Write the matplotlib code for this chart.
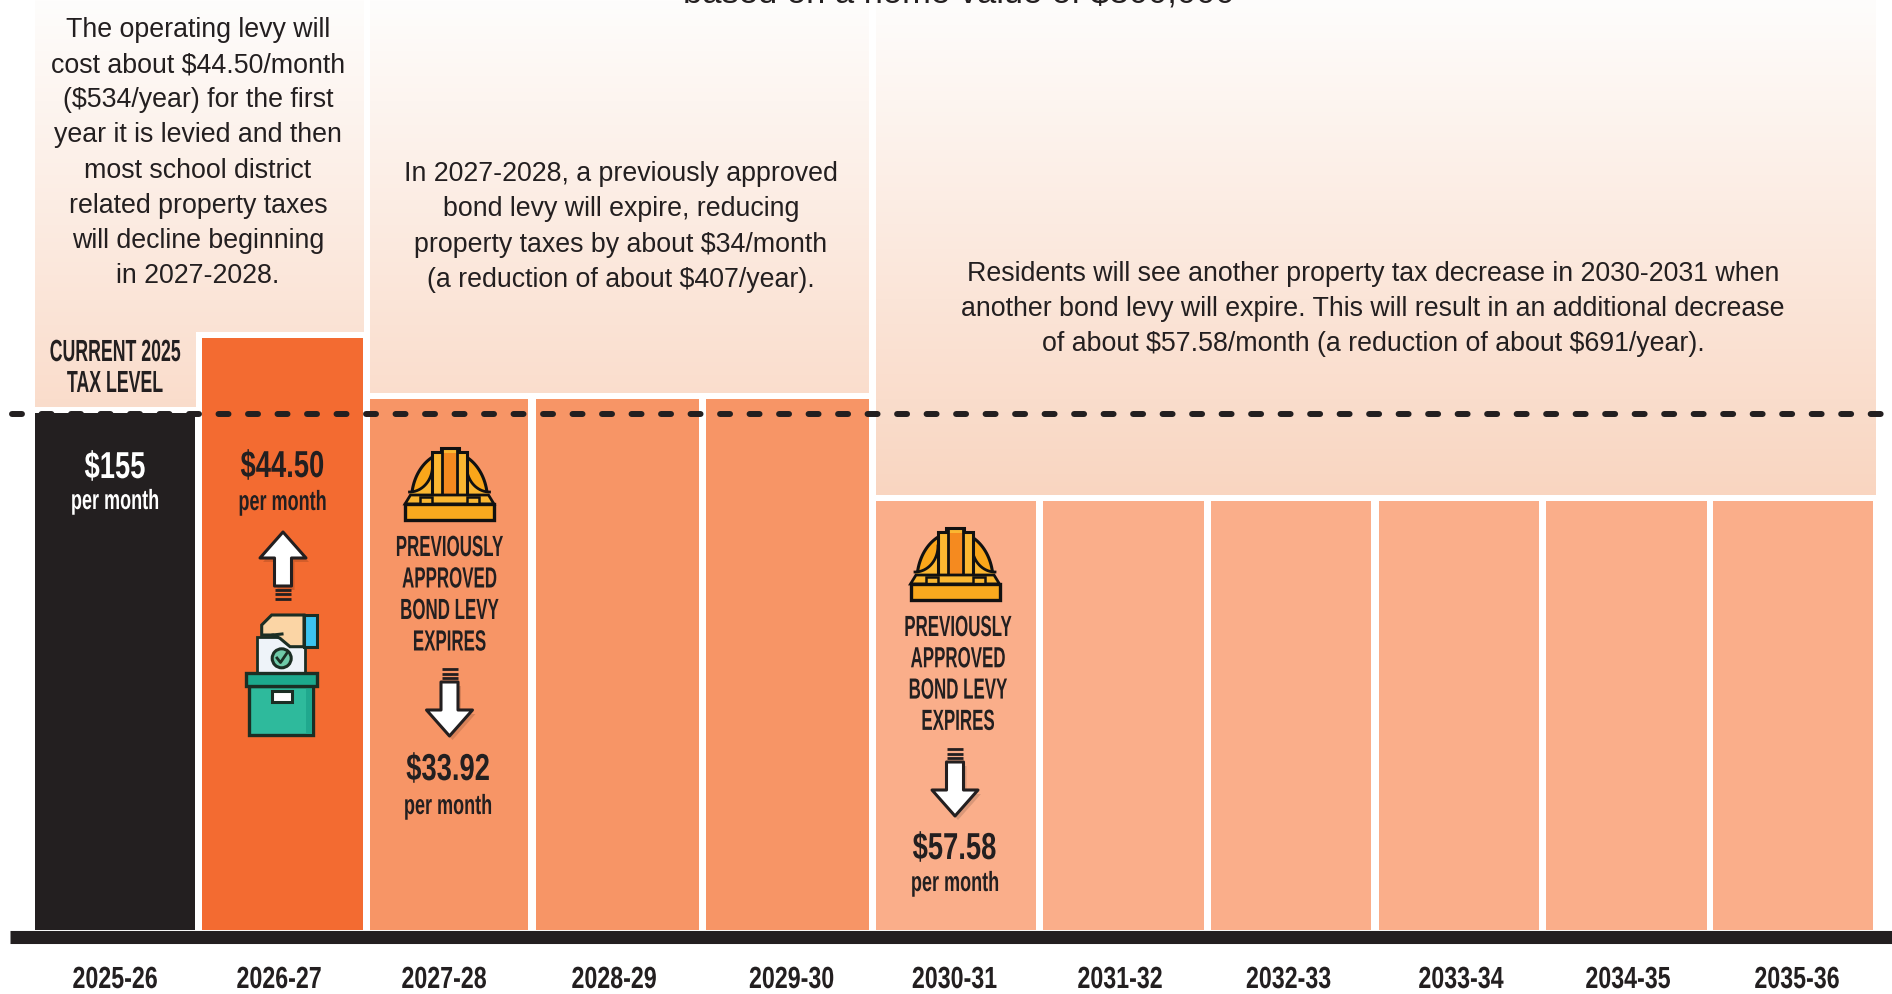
import numpy as np
from matplotlib import pyplot as plt
from matplotlib.patches import Rectangle, Polygon, Circle
from matplotlib.patheffects import AbstractPathEffect
from matplotlib.transforms import Affine2D

W, H = 1892, 994
BASE_Y = 930
PX_PER_UNIT = 517 / 155

# chart values
years = ["2025-26", "2026-27", "2027-28", "2028-29", "2029-30", "2030-31",
         "2031-32", "2032-33", "2033-34", "2034-35", "2035-36"]
bar_heights = [155, 177.5, 159.2, 159.2, 159.2, 128.6, 128.6, 128.6, 128.6, 128.6, 128.6]
bar_colors = ["#231F20", "#F36B31", "#F79566", "#F79566", "#F79566", "#FAAE8A",
              "#FAAE8A", "#FAAE8A", "#FAAE8A", "#FAAE8A", "#FAAE8A"]
current_level = 154.7

# layout in pixels
bar_left = [34.5, 202, 370, 535.5, 705.5, 876, 1043, 1211, 1379, 1546, 1713]
bar_right = [195, 363, 527.5, 698.5, 868.5, 1036, 1203.5, 1371, 1539, 1706.5, 1873]
year_x = [115, 279, 444, 614, 791.5, 954.5, 1120, 1288.5, 1461, 1628, 1797]

TEXT = "#231F20"
BODY = "Liberation Sans"
HEAD = ["Liberation Sans Narrow", "Liberation Sans"]


class Squeeze(AbstractPathEffect):
    # narrows the glyphs around the anchor, no condensed display font is installed
    def __init__(self, factor, cx):
        super().__init__()
        self.factor = factor
        self.cx = cx

    def draw_path(self, renderer, gc, tpath, affine, rgbFace=None):
        t = affine + Affine2D().translate(-self.cx, 0).scale(self.factor, 1).translate(self.cx, 0)
        renderer.draw_path(gc, tpath, t, rgbFace)


fig = plt.figure(figsize=(W / 100, H / 100), dpi=100)
ax = fig.add_axes([0, (H - BASE_Y) / H, 1, BASE_Y / H])
ax.set_xlim(0, W)
ax.set_ylim(0, BASE_Y / PX_PER_UNIT)

ov = fig.add_axes([0, 0, 1, 1], facecolor="none")
ov.set_xlim(0, W)
ov.set_ylim(H, 0)
ov.axis("off")

# gradient panels above the bars
t = np.linspace(0, 1, 256)[:, None]
top_c = np.array([254, 253, 252]) / 255
bot_c = np.array([249, 213, 192]) / 255
grad = (top_c + (bot_c - top_c) * t)[:, None, :].reshape(256, 1, 3)
gap = 6 / PX_PER_UNIT
panels = [(34.5, 195, bar_heights[0]), (195, 363, bar_heights[1]),
          (370, 868.5, bar_heights[2]), (876, 1875, bar_heights[5])]
ymax = BASE_Y / PX_PER_UNIT
for x0, x1, level in panels:
    im = ax.imshow(grad, extent=(0, W, (BASE_Y - 500) / PX_PER_UNIT, ymax), aspect="auto", zorder=1)
    clip = Rectangle((x0, level + gap), x1 - x0, ymax - level - gap, transform=ax.transData)
    im.set_clip_path(clip)
ax.set_xlim(0, W)
ax.set_ylim(0, ymax)

widths = [r - l for l, r in zip(bar_left, bar_right)]
ax.bar(bar_left, bar_heights, width=widths, align="edge", color=bar_colors, zorder=2)

ax.axhline(current_level, xmin=12 / W, color=TEXT, lw=4.3, zorder=6,
           dash_capstyle="round", dashes=(1.67, 3.27))

for s in ["top", "left", "right"]:
    ax.spines[s].set_visible(False)
ax.spines["bottom"].set_bounds(10, W)
ax.spines["bottom"].set_linewidth(9.4)
ax.spines["bottom"].set_color(TEXT)
ax.spines["bottom"].set_position(("outward", 4.7))
ax.spines["bottom"].set_capstyle("butt")
ax.set_yticks([])
ax.set_xticks(year_x)
ax.set_xticklabels(years)
ax.tick_params(axis="x", length=0, pad=20.5)
for lab, x in zip(ax.get_xticklabels(), year_x):
    lab.set_family(HEAD)
    lab.set_fontweight("bold")
    lab.set_fontsize(22)
    lab.set_color(TEXT)
    lab.set_path_effects([Squeeze(0.76, x)])


def body(x, y, s, size=19.3, spacing=1.455):
    ov.text(x, y, s.replace("$", r"\$"), ha="center", va="center", family=BODY, fontsize=size,
            color=TEXT, linespacing=spacing)


def head(x, y, s, size=22, squeeze=0.58, color=TEXT):
    ov.text(x, y, s.replace("$", r"\$"), ha="center", va="center", family=HEAD, fontsize=size,
            color=color, fontweight="bold", path_effects=[Squeeze(squeeze, x)])


def money(x, y, s, color=TEXT):
    head(x, y, s, size=27, squeeze=0.73, color=color)


def per_month(x, y, color=TEXT):
    head(x, y, "per month", size=20, squeeze=0.65, color=color)


def arrow(x, tip, direction):
    # direction -1 points up, +1 points down
    d = direction
    pts = [(x, tip), (x - 23, tip - d * 26), (x - 8.5, tip - d * 26), (x - 8.5, tip - d * 54),
           (x + 8.5, tip - d * 54), (x + 8.5, tip - d * 26), (x + 23, tip - d * 26)]
    shadow = [(a + 3, b + 4) for a, b in pts]
    ov.add_patch(Polygon(shadow, closed=True, fc="#000000", ec="none", alpha=0.13, zorder=3))
    ov.add_patch(Polygon(pts, closed=True, fc="white", ec=TEXT, lw=2.2, joinstyle="round", zorder=4))
    for k in range(3):
        yy = tip - d * (58 + k * 4.3)
        ov.plot([x - 8, x + 8], [yy, yy], color=TEXT, lw=2, solid_capstyle="butt", zorder=4)


def hard_hat(cx, top):
    k = "#111111"
    th = np.linspace(np.pi, 2 * np.pi, 60)
    dome = np.column_stack([cx + 38 * np.cos(th), top + 52 + 48 * np.sin(th)])
    ov.add_patch(Polygon(dome, closed=True, fc="#FAA61A", ec=k, lw=2.2, zorder=3))
    ridge = [(cx - 17.5, top + 52), (cx - 17.5, top + 4), (cx - 9, top + 4), (cx - 9, top),
             (cx + 9, top), (cx + 9, top + 4), (cx + 17.5, top + 4), (cx + 17.5, top + 52)]
    for sx in (-1, 1):
        # rounded side panel of the shell
        a = np.linspace(0, np.pi / 2, 20)
        side = np.column_stack([cx + sx * (40 - 23 * np.cos(a)), top + 18 + 26 * np.sin(a)])
        inner = np.vstack([[[cx + sx * 17.5, top + 18]], side, [[cx + sx * 37, top + 52]], [[cx + sx * 17.5, top + 52]]])
        ov.add_patch(Polygon(inner, closed=True, fc="#FBB731", ec="none", zorder=3))
        ov.plot(side[:, 0], side[:, 1], color=k, lw=2, zorder=3)
    ov.add_patch(Polygon(ridge, closed=True, fc="#FBB731", ec=k, lw=2.2, zorder=3))
    ov.add_patch(Rectangle((cx - 6.5, top + 5), 13, 47, fc="#F58A1F", ec="none", zorder=3))
    ov.plot([cx - 7.5, cx - 7.5], [top + 2, top + 50], color=k, lw=2, zorder=3)
    ov.plot([cx + 7.5, cx + 7.5], [top + 2, top + 50], color=k, lw=2, zorder=3)
    flare = [(cx - 39, top + 47), (cx - 44.5, top + 56), (cx + 44.5, top + 56), (cx + 39, top + 47)]
    ov.add_patch(Polygon(flare, closed=True, fc="#FBB731", ec=k, lw=2, zorder=3))
    for sx in (-1, 1):
        ov.add_patch(Rectangle((cx + sx * 23.5 - 6, top + 49), 12, 7, fc="#FBB731", ec=k, lw=1.8, zorder=3))
    ov.add_patch(Rectangle((cx - 44.5, top + 56), 89, 16, fc="#F9A91E", ec=k, lw=2.4, zorder=4))


def ballot(cx):
    k = "#1B2E24"
    ov.add_patch(Rectangle((cx - 25.3, 636.7), 48.3, 37, fc="#EEF3F9", ec=k, lw=2, zorder=3))
    ov.add_patch(Circle((cx - 0.3, 658.3), 9.5, fc="#6FC9A8", ec=k, lw=2.2, zorder=4))
    ov.plot([cx - 5, cx - 1.5, cx + 5], [658, 662.5, 653], color=k, lw=2, zorder=5)
    hand = [(cx - 20.3, 625), (cx - 10.3, 615), (cx + 22, 615), (cx + 22, 646.7), (cx + 8, 646.7),
            (cx - 2, 638.3), (cx - 8.7, 635), (cx - 20.3, 635)]
    ov.add_patch(Polygon(hand, closed=True, fc="#FBD5A5", ec=k, lw=2.2, zorder=5))
    ov.plot([cx - 9, cx + 0], [635, 634], color=k, lw=2.2, zorder=6)
    ov.add_patch(Rectangle((cx + 22, 615), 13.3, 31.7, fc="#3CC4F0", ec=k, lw=2.2, zorder=5))
    ov.add_patch(Rectangle((cx - 32.7, 685.7), 64, 49.3, fc="#2EBA9C", ec=k, lw=2.4, zorder=3))
    ov.add_patch(Rectangle((cx + 24, 687), 6, 47, fc="#20A88E", ec="none", zorder=3))
    ov.add_patch(Rectangle((cx - 36, 672.7), 71.3, 13, fc="#1CA98D", ec=k, lw=2.4, zorder=4))
    ov.add_patch(Rectangle((cx - 10.3, 690.7), 20.6, 11, fc="white", ec=k, lw=2.2, zorder=4))


# title line cut by the top edge
ov.text(959, 4, r"based on a home value of \$300,000", ha="center", va="baseline", family=BODY,
        fontsize=24.8, color=TEXT)

body(198, 153, "The operating levy will\ncost about $44.50/month\n($534/year) for the first\n"
     "year it is levied and then\nmost school district\nrelated property taxes\n"
     "will decline beginning\nin 2027-2028.")
body(621, 227, "In 2027-2028, a previously approved\nbond levy will expire, reducing\n"
     "property taxes by about $34/month\n(a reduction of about $407/year).")
body(1373, 309, "Residents will see another property tax decrease in 2030-2031 when\n"
     "another bond levy will expire. This will result in an additional decrease\n"
     "of about $57.58/month (a reduction of about $691/year).")

head(115, 353, "CURRENT 2025")
head(115, 384, "TAX LEVEL")

money(115, 468, "$155", color="white")
per_month(115, 502, color="white")
money(282.5, 467, "$44.50")
per_month(282.5, 503)
arrow(283, 532, -1)
ballot(282)

hard_hat(449.5, 448)
for i, s in enumerate(["PREVIOUSLY", "APPROVED", "BOND LEVY", "EXPIRES"]):
    head(449.5, 548 + i * 31.5, s, size=21)
arrow(449.5, 736, 1)
money(448, 770, "$33.92")
per_month(448, 807)

hard_hat(955, 528)
for i, s in enumerate(["PREVIOUSLY", "APPROVED", "BOND LEVY", "EXPIRES"]):
    head(958, 628 + i * 31.3, s, size=21)
arrow(955, 816, 1)
money(954.5, 849, "$57.58")
per_month(955, 884)

fig.savefig("out.png", dpi=100)
